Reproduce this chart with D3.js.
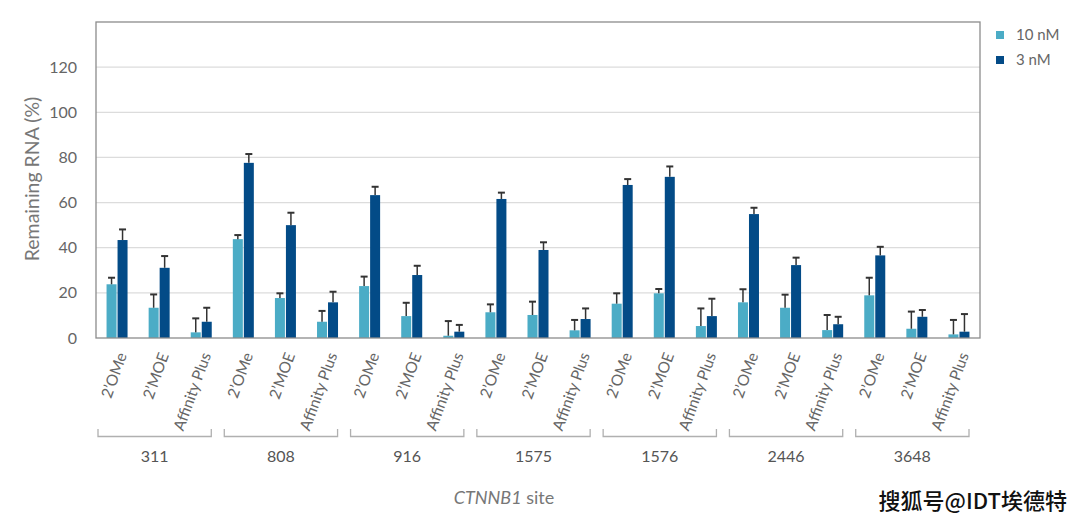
<!DOCTYPE html>
<html><head><meta charset="utf-8">
<script src="https://cdn.jsdelivr.net/npm/d3@7"></script>
<style>body{margin:0;background:#fff}svg{display:block}</style>
</head><body>
<svg id="c" width="1080" height="527"></svg>
<script>
const sites = ["311","808","916","1575","1576","2446","3648"];
const chemistries = ["2’OMe","2’MOE","Affinity Plus"];
const seriesNames = ["10 nM","3 nM"];
// values in site order, chemistry order within site
const val10 = [23.8,13.4,2.5, 43.8,17.7,7.2, 23.0,9.7,1.0, 11.4,10.2,3.4, 15.2,19.8,5.3, 15.8,13.4,3.5, 18.9,4.1,1.6];
const err10 = [2.9,5.9,6.2, 1.8,2.1,4.8, 4.2,5.9,6.5, 3.5,5.9,4.6, 4.6,1.9,7.8, 5.8,5.8,6.7, 7.8,7.6,6.4];
const val3  = [43.4,31.1,7.2, 77.6,50.0,15.8, 63.3,27.9,2.8, 61.6,39.0,8.4, 67.8,71.4,9.7, 54.9,32.3,6.1, 36.6,9.4,2.8];
const err3  = [4.7,5.2,6.2, 3.9,5.5,4.7, 3.7,4.1,3.0, 2.8,3.4,4.7, 2.6,4.6,7.7, 2.8,3.3,3.3, 3.8,3.0,7.8];
const yTicks = [0,20,40,60,80,100,120];
const colors = ["#4bacc6","#034b87"];

const svg = d3.select("#c");
const L=96, R=980, T=22, B=338;
const FONT = "Lato, sans-serif";
const cats = [];
sites.forEach((s,i)=>chemistries.forEach((c,j)=>cats.push({site:s,chem:c,idx:i*3+j})));
const x = d3.scaleBand().domain(cats.map(d=>d.idx)).range([L,R]).padding(0);
const y = d3.scaleLinear().domain([0,140]).range([B,T]);
const bw = 10, gap = 1;

// gridlines
svg.append("g").selectAll("line").data(yTicks.filter(t=>t>0)).join("line")
  .attr("x1",L).attr("x2",R).attr("y1",d=>y(d)).attr("y2",d=>y(d))
  .attr("stroke","#dcdcdc").attr("stroke-width",1.2);

// y axis labels
const ya = svg.append("g").attr("transform",`translate(${L},0)`)
  .call(d3.axisLeft(y).tickValues(yTicks).tickSize(0).tickPadding(19));
ya.select(".domain").remove();
ya.selectAll("text").attr("font-family",FONT).attr("font-size",16).attr("fill","#666");

// bars
const series = [{v:val10,e:err10},{v:val3,e:err3}];
series.forEach((s,k)=>{
  const g = svg.append("g");
  const cx = d=> x(d.idx)+x.bandwidth()/2 + (k===0 ? -gap/2-bw : gap/2);
  g.selectAll("rect").data(cats).join("rect")
    .attr("x",cx).attr("width",bw)
    .attr("y",d=>y(s.v[d.idx])).attr("height",d=>B-y(s.v[d.idx]))
    .attr("fill",colors[k]);
  const eg = svg.append("g").attr("stroke","#333").attr("stroke-width",1.5);
  cats.forEach(d=>{
    const mx = cx(d)+bw/2, top=y(s.v[d.idx]+s.e[d.idx]);
    eg.append("line").attr("x1",mx).attr("x2",mx).attr("y1",y(s.v[d.idx])).attr("y2",top);
    eg.append("line").attr("x1",mx-3.5).attr("x2",mx+3.5).attr("y1",top).attr("y2",top).attr("stroke-width",2);
  });
});

// frame
svg.append("rect").attr("x",L).attr("y",T).attr("width",R-L).attr("height",B-T)
  .attr("fill","none").attr("stroke","#8c8c8c").attr("stroke-width",1.3);

// chemistry labels
svg.append("g").selectAll("text").data(cats).join("text")
  .attr("transform",d=>`translate(${x(d.idx)+x.bandwidth()/2+10},${355}) rotate(-70)`)
  .attr("text-anchor","end")
  .attr("font-family",FONT).attr("font-size",15.5).attr("fill","#666")
  .text(d=>d.chem);

// brackets
const gw = x.bandwidth()*3;
sites.forEach((s,i)=>{
  const x0 = L + i*gw + 2, x1 = L + (i+1)*gw - 11;
  svg.append("path").attr("d",`M${x0},429V436.5H${x1}V429`)
    .attr("fill","none").attr("stroke","#b0b0b0").attr("stroke-width",1.3);
  svg.append("text").attr("x",(x0+x1)/2).attr("y",462).attr("text-anchor","middle")
    .attr("font-family",FONT).attr("font-size",16).attr("fill","#555").text(s);
});

// axis titles
svg.append("text").attr("transform","translate(39,179) rotate(-90)").attr("text-anchor","middle")
  .attr("font-family",FONT).attr("font-size",19.5).attr("fill","#777").text("Remaining RNA (%)");
const xt = svg.append("text").attr("x",504).attr("y",504).attr("text-anchor","middle")
  .attr("font-family",FONT).attr("font-size",18).attr("fill","#777");
xt.append("tspan").attr("font-style","italic").text("CTNNB1");
xt.append("tspan").text(" site");

// legend
seriesNames.forEach((n,k)=>{
  svg.append("rect").attr("x",996).attr("y",31+k*25).attr("width",8).attr("height",8).attr("fill",colors[k]);
  svg.append("text").attr("x",1016).attr("y",40+k*25).attr("font-family",FONT)
    .attr("font-size",15).attr("fill","#666").text(n);
});

// watermark
svg.append("text").attr("x",1067).attr("y",509).attr("text-anchor","end")
  .attr("font-family","Noto Sans CJK SC").attr("font-size",22).attr("font-weight","500")
  .attr("fill","#111").attr("stroke","#fff").attr("stroke-width",0.5).attr("paint-order","stroke")
  .text("搜狐号@IDT埃德特");
</script>
</body></html>
